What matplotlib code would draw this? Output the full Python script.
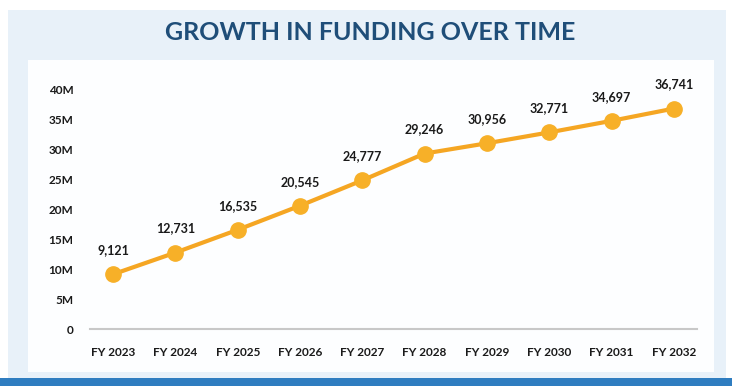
import matplotlib
matplotlib.use("Agg")
import matplotlib.pyplot as plt
from matplotlib.patches import Rectangle

# Funding by fiscal year (thousands)
years = ["FY 2023", "FY 2024", "FY 2025", "FY 2026", "FY 2027",
         "FY 2028", "FY 2029", "FY 2030", "FY 2031", "FY 2032"]
funding_k = [9121, 12731, 16535, 20545, 24777, 29246, 30956, 32771, 34697, 36741]
y_ticks = [0, 5, 10, 15, 20, 25, 30, 35, 40]
y_tick_labels = ["0", "5M", "10M", "15M", "20M", "25M", "30M", "35M", "40M"]

W, H = 732, 386
fig = plt.figure(figsize=(W / 100, H / 100), dpi=100)
fig.patch.set_facecolor("white")

def px_rect(x0, y0, x1, y1, color, z=0):
    fig.patches.append(Rectangle((x0 / W, 1 - y1 / H), (x1 - x0) / W, (y1 - y0) / H,
                                 transform=fig.transFigure, facecolor=color,
                                 edgecolor="none", zorder=z))

# Background panels
px_rect(8, 10, 726, 378, "#e8f1f9", 0)
px_rect(28, 60, 714, 372, "#fdfeff", 1)
px_rect(0, 378, W, H, "#2f7dc0", 1)

fig.text(370 / W, 1 - 33 / H, "GROWTH IN FUNDING OVER TIME", ha="center", va="center",
         fontsize=18, fontweight="bold", color="#1f4e79", family="Lato", zorder=5)

ax = fig.add_axes([90 / W, 1 - 329 / H, 607 / W, 240 / H])
ax.set_facecolor("none")
ax.set_zorder(3)

x = list(range(len(years)))
vals_m = [v / 1000 for v in funding_k]
ax.plot(x, vals_m, color="#f5a623", lw=3, marker="o", ms=11,
        markerfacecolor="#f7b028", markeredgecolor="#f7b028", clip_on=False, zorder=4)

for xi, v, k in zip(x, vals_m, funding_k):
    ax.annotate(f"{k:,}", (xi, v), xytext=(0, 13), textcoords="offset points",
                ha="center", va="bottom", fontsize=9, fontweight="bold",
                color="#1a1a1a", family="Lato")

ax.set_xlim(-0.37, 9.37)
ax.set_ylim(0, 40)
ax.set_xticks(x)
ax.set_xticklabels(years)
ax.set_yticks(y_ticks)
ax.set_yticklabels(y_tick_labels)
ax.tick_params(length=0)
ax.tick_params(axis="x", pad=13)
ax.tick_params(axis="y", pad=12)
for lab in ax.get_xticklabels() + ax.get_yticklabels():
    lab.set_fontsize(8.5)
    lab.set_fontweight("bold")
    lab.set_family("Lato")
    lab.set_color("#1a1a1a")

for side in ["top", "right", "left"]:
    ax.spines[side].set_visible(False)
ax.spines["bottom"].set_color("#c8c8c8")
ax.spines["bottom"].set_linewidth(1.5)

fig.savefig("out.png", dpi=100)
